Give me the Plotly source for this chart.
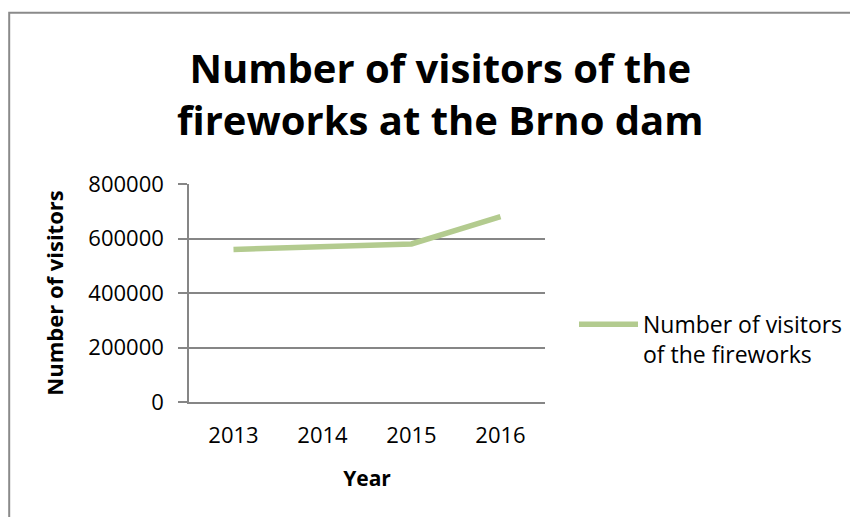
import plotly.graph_objects as go

years = ["2013", "2014", "2015", "2016"]
visitors = [560000, 570000, 580000, 680000]
series_name = "Number of visitors<br>of the fireworks"
y_ticks = [0, 200000, 400000, 600000, 800000]
title_text = "<b>Number of visitors of the<br>fireworks at the Brno dam</b>"

GRID = "#868686"
FONT = "Open Sans"

# plot area in figure pixels
L, R, T, B = 181, 537, 176.3, 394.3
PW, PH = R - L, B - T

fig = go.Figure()
fig.add_trace(go.Scatter(
    x=years, y=visitors, mode="lines", name=series_name,
    line=dict(color="#B3CB8F", width=5.5),
    showlegend=True,
))

fig.update_layout(
    width=858, height=517,
    margin=dict(l=L, r=858 - R, t=T, b=517 - B),
    paper_bgcolor="white", plot_bgcolor="white",
    font=dict(family=FONT, color="black", size=22),
    xaxis=dict(
        type="category", range=[-0.5, 3.5],
        showgrid=False, showline=True, linecolor=GRID, linewidth=1.5,
        ticks="", tickfont=dict(size=22), ticklabelstandoff=13,
        title=dict(text="<b>Year</b>", font=dict(size=21), standoff=23),
    ),
    yaxis=dict(
        range=[0, 800000], tickvals=y_ticks, ticktext=[str(v) for v in y_ticks],
        showgrid=True, gridcolor=GRID, gridwidth=1.5,
        showline=True, linecolor=GRID, linewidth=1.5,
        ticks="outside", ticklen=9, tickcolor=GRID, tickwidth=1.5,
        zeroline=False, tickfont=dict(size=22), ticklabelstandoff=10,
        title=dict(text="<b>Number of visitors</b>", font=dict(size=22), standoff=19),
    ),
    legend=dict(
        x=(566 - L) / PW, y=(B - 331.5) / PH, xanchor="left", yanchor="middle",
        font=dict(size=23), itemwidth=59, valign="top",
        bgcolor="rgba(0,0,0,0)",
    ),
    annotations=[dict(
        text=title_text, xref="paper", yref="paper",
        x=(432 - L) / PW, y=(B - 86) / PH, xanchor="center", yanchor="middle",
        showarrow=False, font=dict(family=FONT, size=40, color="black"),
    )],
    shapes=[dict(
        type="rect", xref="paper", yref="paper",
        x0=(1.2 - L) / PW, x1=(880 - L) / PW,
        y0=(B - 540) / PH, y1=(B - 5) / PH,
        line=dict(color="#8A8A8A", width=2), fillcolor="rgba(0,0,0,0)",
        layer="below",
    )],
)

fig.write_html("out.html")
